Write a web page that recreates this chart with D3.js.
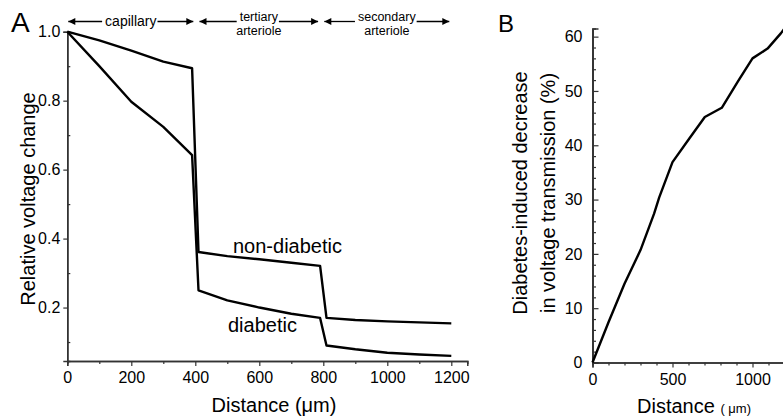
<!DOCTYPE html>
<html><head><meta charset="utf-8">
<script src="https://cdn.jsdelivr.net/npm/d3@7"></script>
<style>
body{margin:0;background:#fff;}
text{font-family:"Liberation Sans",Arial,sans-serif;fill:#000;}
</style></head>
<body>
<svg id="c" width="783" height="418"></svg>
<script>
// Panel A data
const nonDiabeticX = [0, 100, 200, 300, 390, 410, 500, 600, 700, 790, 810, 900, 1000, 1100, 1200];
const nonDiabeticY = [1.0, 0.975, 0.945, 0.913, 0.894, 0.361, 0.349, 0.34, 0.33, 0.321, 0.17, 0.164, 0.16, 0.157, 0.154];
const diabeticX = [0, 100, 200, 300, 390, 410, 500, 600, 700, 790, 810, 900, 1000, 1100, 1200];
const diabeticY = [1.0, 0.9, 0.797, 0.724, 0.642, 0.25, 0.221, 0.2, 0.182, 0.17, 0.09, 0.079, 0.069, 0.064, 0.06];
const ticksAX = [0, 200, 400, 600, 800, 1000, 1200];
const minorAX = [100, 300, 500, 700, 900, 1100];
const ticksAY = [0.2, 0.4, 0.6, 0.8, 1.0];
const minorAY = [0.1, 0.3, 0.5, 0.7, 0.9];
const regions = [
  {lines:["capillary"], from:0, to:400},
  {lines:["tertiary","arteriole"], from:410, to:790},
  {lines:["secondary","arteriole"], from:800, to:1200}
];
// Panel B data
const decreaseX = [0, 100, 200, 300, 385, 417, 500, 604, 702, 808, 910, 1000, 1094, 1177, 1200];
const decreaseY = [0, 7.4, 14.5, 20.7, 27.4, 30.4, 36.9, 41.2, 45.2, 46.9, 51.8, 56, 57.8, 60.6, 61.5];
const ticksBX = [0, 500, 1000];
const minorBX = [100,200,300,400,600,700,800,900,1100,1200];
const ticksBY = [0, 10, 20, 30, 40, 50, 60];
const minorBY = d3.range(2, 62, 2).filter(v => v % 10 !== 0);

const svg = d3.select("#c");
const axisColor = "#333";

// ---------- Panel A ----------
const xA = d3.scaleLinear().domain([0, 1250]).range([67.3, 467.3]);
const yA = d3.scaleLinear().domain([0.045, 1.0]).range([361, 31.7]);
const gA = svg.append("g");

gA.append("g").attr("transform", `translate(0,${yA(0.045)})`)
  .call(d3.axisBottom(xA).tickValues(ticksAX).tickSize(5).tickPadding(6).tickFormat(d3.format("d")));
gA.append("g").attr("transform", `translate(0,${yA(0.045)})`)
  .call(d3.axisBottom(xA).tickValues(minorAX).tickSize(3).tickFormat(""));
gA.append("g").attr("transform", `translate(${xA(0)},0)`)
  .call(d3.axisLeft(yA).tickValues(ticksAY).tickSize(4).tickPadding(3).tickFormat(d3.format(".1f")));
gA.append("g").attr("transform", `translate(${xA(0)},0)`)
  .call(d3.axisRight(yA).tickValues(minorAY).tickSize(3).tickFormat(""));

const lineA = d3.line().x(d => xA(d[0])).y(d => yA(d[1]));
gA.append("path").datum(nonDiabeticX.map((x,i)=>[x, nonDiabeticY[i]]))
  .attr("d", lineA).attr("fill","none").attr("stroke","#000").attr("stroke-width",2.4).attr("stroke-linejoin","round");
gA.append("path").datum(diabeticX.map((x,i)=>[x, diabeticY[i]]))
  .attr("d", lineA).attr("fill","none").attr("stroke","#000").attr("stroke-width",2.4).attr("stroke-linejoin","round");

gA.append("text").attr("x", 233).attr("y", 253).style("font-size","20px").text("non-diabetic");
gA.append("text").attr("x", 228).attr("y", 332).style("font-size","20px").text("diabetic");

gA.append("text").attr("x", 274).attr("y", 412).attr("text-anchor","middle").style("font-size","20px").text("Distance (μm)");
gA.append("text").attr("transform", `translate(35,199) rotate(-90)`).attr("text-anchor","middle")
  .style("font-size","20px").text("Relative voltage change");
gA.append("text").attr("x", 11).attr("y", 32).style("font-size","28px").text("A");

// region arrows
const defs = svg.append("defs");
defs.append("marker").attr("id","ah").attr("viewBox","0 0 10 10").attr("refX",10).attr("refY",5)
  .attr("markerWidth",10).attr("markerHeight",7).attr("markerUnits","userSpaceOnUse").attr("orient","auto-start-reverse")
  .append("path").attr("d","M0,0 L10,5 L0,10 Z").attr("fill","#000");
const arrowY = 21.5;
regions.forEach((r) => {
  const x0 = xA(r.from) + 1, x1 = xA(r.to) - 2;
  const cx = (x0 + x1) / 2;
  const g = gA.append("g");
  const t1 = g.append("text").attr("x", cx).attr("y", r.lines.length === 1 ? 26 : 20.5)
    .attr("text-anchor","middle").style("font-size", r.lines.length === 1 ? "14px" : "12.5px").text(r.lines[0]);
  if (r.lines.length > 1) {
    g.append("text").attr("x", cx).attr("y", 35).attr("text-anchor","middle")
      .style("font-size","12.5px").text(r.lines[1]);
  }
  const w = t1.node().getComputedTextLength();
  g.append("line").attr("x1", cx - w/2 - 3).attr("x2", x0).attr("y1", arrowY).attr("y2", arrowY)
    .attr("stroke","#000").attr("stroke-width",1.3).attr("marker-end","url(#ah)");
  g.append("line").attr("x1", cx + w/2 + 1).attr("x2", x1).attr("y1", arrowY).attr("y2", arrowY)
    .attr("stroke","#000").attr("stroke-width",1.3).attr("marker-end","url(#ah)");
});

// ---------- Panel B ----------
const xB = d3.scaleLinear().domain([0, 1250]).range([592.5, 792.5]);
const yB = d3.scaleLinear().domain([0, 61.5]).range([362.5, 28.5]);
const gB = svg.append("g");
gB.append("g").attr("transform", `translate(0,${yB(0)})`)
  .call(d3.axisBottom(xB).tickValues(ticksBX).tickSize(5).tickPadding(6).tickFormat(d3.format("d")));
gB.append("g").attr("transform", `translate(0,${yB(0)})`)
  .call(d3.axisBottom(xB).tickValues(minorBX).tickSize(3).tickFormat(""));
gB.append("g").attr("transform", `translate(${xB(0)},0)`)
  .call(d3.axisLeft(yB).tickValues(ticksBY).tickSize(0).tickPadding(10).tickFormat(d3.format("d")));
gB.append("g").attr("transform", `translate(${xB(0)},0)`)
  .call(d3.axisRight(yB).tickValues(ticksBY).tickSize(6).tickFormat(""));
gB.append("g").attr("transform", `translate(${xB(0)},0)`)
  .call(d3.axisRight(yB).tickValues(minorBY).tickSize(3.5).tickFormat(""));

const lineB = d3.line().x(d => xB(d[0])).y(d => yB(d[1]));
gB.append("path").datum(decreaseX.map((x,i)=>[x, decreaseY[i]]))
  .attr("d", lineB).attr("fill","none").attr("stroke","#000").attr("stroke-width",2.4).attr("stroke-linejoin","round");

const bt = gB.append("text").attr("x", 637).attr("y", 413).style("font-size","20px");
bt.append("tspan").text("Distance ");
bt.append("tspan").style("font-size","13px").text("( μm)");
gB.append("text").attr("transform", `translate(527,193) rotate(-90)`).attr("text-anchor","middle")
  .style("font-size","20px").text("Diabetes-induced decrease");
gB.append("text").attr("transform", `translate(555,193) rotate(-90)`).attr("text-anchor","middle")
  .style("font-size","20px").text("in voltage transmission (%)");
gB.append("text").attr("x", 498).attr("y", 31.5).style("font-size","24px").text("B");

// styling axes
svg.selectAll(".domain").attr("stroke", axisColor).attr("stroke-width",1.5);
svg.selectAll(".tick line").attr("stroke", axisColor).attr("stroke-width",1.2);
svg.selectAll(".tick text").style("font-size","16px").attr("fill","#000");
</script>
</body></html>
